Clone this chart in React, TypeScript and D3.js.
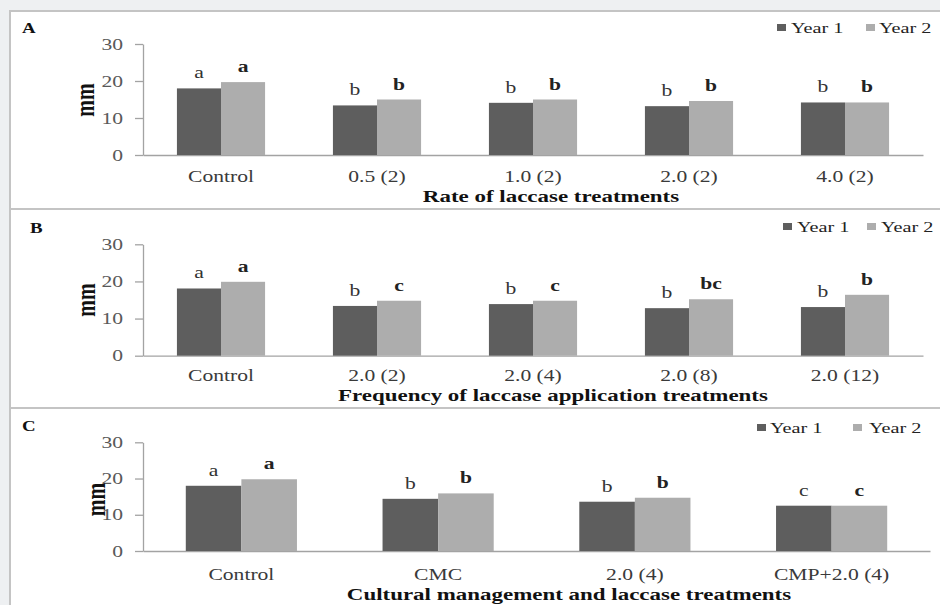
import React from 'react';
import * as d3 from 'd3';

// Panel A: rate of laccase
const categoriesA = ['Control', '0.5 (2)', '1.0 (2)', '2.0 (2)', '4.0 (2)'];
const year1A = [18.0, 13.4, 14.1, 13.2, 14.2];
const year2A = [19.7, 15.0, 15.0, 14.6, 14.2];
const letters1A = ['a', 'b', 'b', 'b', 'b'];
const letters2A = ['a', 'b', 'b', 'b', 'b'];

// Panel B: frequency of application
const categoriesB = ['Control', '2.0 (2)', '2.0 (4)', '2.0 (8)', '2.0 (12)'];
const year1B = [18.1, 13.4, 13.9, 12.8, 13.1];
const year2B = [19.9, 14.8, 14.8, 15.2, 16.4];
const letters1B = ['a', 'b', 'b', 'b', 'b'];
const letters2B = ['a', 'c', 'c', 'bc', 'b'];

// Panel C: cultural management
const categoriesC = ['Control', 'CMC', '2.0 (4)', 'CMP+2.0 (4)'];
const year1C = [18.0, 14.4, 13.6, 12.5];
const year2C = [19.8, 15.9, 14.7, 12.5];
const letters1C = ['a', 'b', 'b', 'c'];
const letters2C = ['a', 'b', 'b', 'c'];

const yTicks = [0, 10, 20, 30];
const seriesNames = ['Year 1', 'Year 2'];

const panels = [
  {
    tag: 'A', title: 'Rate of laccase treatments',
    categories: categoriesA, y1: year1A, y2: year2A, l1: letters1A, l2: letters2A,
    box: [11, 209], y0: 155, y30: 44, xr: 923, catY: 181.5, titleY: 201.5, titleX: 551,
    legendY: 33, legendX: [777, 791, 866, 879], tagX: 22, tagY: 33, mm: [86, 100],
  },
  {
    tag: 'B', title: 'Frequency of laccase application treatments',
    categories: categoriesB, y1: year1B, y2: year2B, l1: letters1B, l2: letters2B,
    box: [209, 408], y0: 355.7, y30: 244.3, xr: 923, catY: 381, titleY: 401, titleX: 553,
    legendY: 232, legendX: [783, 797, 867, 881], tagX: 30, tagY: 233, mm: [86.5, 300],
  },
  {
    tag: 'C', title: 'Cultural management and laccase treatments',
    categories: categoriesC, y1: year1C, y2: year2C, l1: letters1C, l2: letters2C,
    box: [408, 612], y0: 551, y30: 442.3, xr: 930, catY: 580, titleY: 600, titleX: 569,
    legendY: 433, legendX: [757, 770, 853, 869], tagX: 22, tagY: 431, mm: [96.5, 499.5],
  },
];

const SX = 1.35; // the picture is stretched sideways
const FONT = '"Liberation Serif", "Times New Roman", serif';
const colors = ['#5e5e5e', '#adadad'];
const axisColor = '#a3a3a3';

export default class App extends React.Component {
  ref = React.createRef<SVGSVGElement>();

  setupDom(): void {
    const svg = d3.select(this.ref.current);
    svg.selectAll('*').remove();

    svg.append('rect').attr('width', 940).attr('height', 605).attr('fill', '#eef0f2');

    panels.forEach(p => {
      const g = svg.append('g').style('font-family', FONT);

      g.append('rect')
        .attr('x', 10).attr('y', p.box[0])
        .attr('width', 960).attr('height', p.box[1] - p.box[0])
        .attr('fill', '#fff').attr('stroke', '#c4c4c4').attr('stroke-width', 2);

      const y = d3.scaleLinear().domain([0, 30]).range([p.y0, p.y30]);
      const x = d3.scaleBand().domain(p.categories).range([143, p.xr])
        .paddingInner(0.435).paddingOuter(0.2175);
      const xs = d3.scaleBand().domain(seriesNames).range([0, x.bandwidth()]);

      // y axis
      const yAxis = g.append('g')
        .attr('transform', 'translate(143,0)')
        .call(d3.axisLeft(y).tickValues(yTicks).tickSize(8).tickSizeOuter(0));
      yAxis.selectAll('path, line').attr('stroke', axisColor).attr('stroke-width', 1.3);
      yAxis.selectAll('text')
        .attr('x', null)
        .attr('transform', `translate(-20,0) scale(${SX},1)`)
        .attr('fill', '#595959')
        .style('font-family', FONT)
        .style('font-size', '16px');

      // x axis
      const xAxis = g.append('g')
        .attr('transform', `translate(0,${p.y0})`)
        .call(d3.axisBottom(x).tickSize(0).tickSizeOuter(0));
      xAxis.selectAll('path').attr('stroke', axisColor).attr('stroke-width', 1.3);
      xAxis.selectAll('text')
        .attr('y', null).attr('dy', null)
        .attr('transform', `translate(0,${p.catY - p.y0}) scale(${SX},1)`)
        .attr('fill', '#3a3a3a')
        .style('font-family', FONT)
        .style('font-size', '16px');

      const rows = p.categories.map((c, i) => ({
        c,
        vals: [p.y1[i], p.y2[i]],
        letters: [p.l1[i], p.l2[i]],
      }));

      rows.forEach(r => {
        r.vals.forEach((v, k) => {
          const bx = (x(r.c) as number) + (xs(seriesNames[k]) as number);
          g.append('rect')
            .attr('x', bx).attr('y', y(v))
            .attr('width', xs.bandwidth()).attr('height', y(0) - y(v))
            .attr('fill', colors[k]);
          g.append('text')
            .attr('transform', `translate(${bx + xs.bandwidth() / 2},${y(v) - 10}) scale(${SX},1)`)
            .attr('text-anchor', 'middle')
            .attr('font-size', 16)
            .attr('font-weight', k === 1 ? 'bold' : 'normal')
            .attr('fill', k === 1 ? '#222' : '#333')
            .text(r.letters[k]);
        });
      });

      // axis title
      g.append('text')
        .attr('transform', `translate(${p.titleX},${p.titleY}) scale(${SX},1)`)
        .attr('text-anchor', 'middle')
        .attr('font-size', 17).attr('font-weight', 'bold').attr('fill', '#111')
        .text(p.title);

      // y label
      g.append('text')
        .attr('transform', `translate(${p.mm[0]},${p.mm[1]}) scale(${SX},1) rotate(-90)`)
        .attr('text-anchor', 'middle').attr('dy', '0.3em')
        .attr('font-size', 20).attr('font-weight', 'bold').attr('fill', '#111')
        .text('mm');

      // panel tag
      g.append('text')
        .attr('transform', `translate(${p.tagX},${p.tagY}) scale(${SX},1)`)
        .attr('font-size', 14).attr('font-weight', 'bold').attr('fill', '#111')
        .text(p.tag);

      // legend
      seriesNames.forEach((s, k) => {
        g.append('rect')
          .attr('x', p.legendX[k * 2]).attr('y', p.legendY - 9)
          .attr('width', 9).attr('height', 7)
          .attr('fill', colors[k]);
        g.append('text')
          .attr('transform', `translate(${p.legendX[k * 2 + 1]},${p.legendY}) scale(${SX},1)`)
          .attr('font-size', 15).attr('fill', '#222')
          .text(s);
      });
    });
  }

  componentDidMount(): void {
    this.setupDom();
  }

  render(): React.ReactNode {
    return (
      <svg
        ref={this.ref}
        width={940}
        height={605}
        style={{position: 'absolute', left: 0, top: 0}}
      />
    );
  }
}
